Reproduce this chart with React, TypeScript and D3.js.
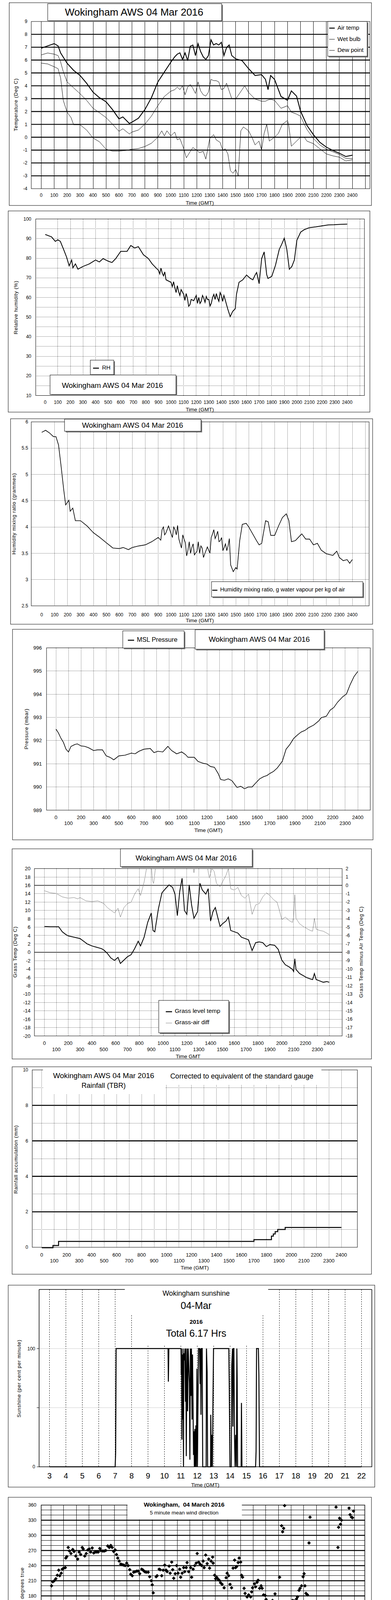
import * as d3 from 'd3'
import React from 'react'

type P = [number, number]

const FONT = "'Liberation Sans', Arial, Helvetica, sans-serif"

// ---------------- tick labels ----------------
const clockLabels = [0, 100, 200, 300, 400, 500, 600, 700, 800, 900, 1000, 1100, 1200, 1300, 1400, 1500, 1600, 1700, 1800, 1900, 2000, 2100, 2200, 2300, 2400]
const clockEven = [0, 200, 400, 600, 800, 1000, 1200, 1400, 1600, 1800, 2000, 2200, 2400]
const clockOdd = [100, 300, 500, 700, 900, 1100, 1300, 1500, 1700, 1900, 2100, 2300]
const tempTicks = [-4, -3, -2, -1, 0, 1, 2, 3, 4, 5, 6, 7, 8, 9]
const rhTicks = [10, 20, 30, 40, 50, 60, 70, 80, 90, 100]
const mixTicks = [2.5, 3, 3.5, 4, 4.5, 5, 5.5, 6]
const pressTicks = [989, 990, 991, 992, 993, 994, 995, 996]
const grassTicks = [-20, -18, -16, -14, -12, -10, -8, -6, -4, -2, 0, 2, 4, 6, 8, 10, 12, 14, 16, 18, 20]
const diffTicks = [-18, -17, -16, -15, -14, -13, -12, -11, -10, -9, -8, -7, -6, -5, -4, -3, -2, -1, 0, 1, 2]
const rainTicks = [0, 2, 4, 6, 8, 10]
const sunHours = [3, 4, 5, 6, 7, 8, 9, 10, 11, 12, 13, 14, 15, 16, 17, 18, 19, 20, 21, 22]
const dirTicks = [0, 30, 60, 90, 120, 150, 180, 210, 240, 270, 300, 330, 360]
const dirHours = [0, 1, 2, 3, 4, 5, 6, 7, 8, 9, 10, 11, 12, 13, 14, 15, 16, 17, 18, 19, 20, 21, 22, 23, 24]
const speedTicks = [0, 10, 20, 30, 40, 50]
const speedEven = ['00:00', '02:00', '04:00', '06:00', '08:00', '10:00', '12:00', '14:00', '16:00', '18:00', '20:00', '22:00']
const speedOdd = ['01:00', '03:00', '05:00', '07:00', '09:00', '11:00', '13:00', '15:00', '17:00', '19:00', '21:00', '23:00']

// ---------------- series (hour, value) ----------------
const airTemp: P[] = [[0, 6.92], [0.5, 7.1], [1, 7.28], [1.3, 7.1], [1.5, 6.55], [2, 5.75], [2.5, 5.2], [3, 4.8], [3.5, 4.2], [4, 3.5], [4.5, 3.07], [5, 2.76], [5.5, 2.15], [6, 1.43], [6.3, 1.58], [6.8, 1.07], [7, 1.17], [7.5, 1.48], [8, 2.15], [8.5, 3.07], [9, 4.3], [9.5, 5.07], [10, 5.84], [10.3, 6.25], [10.5, 6.46], [10.7, 6.56], [10.9, 6.05], [11.1, 6.56], [11.3, 5.95], [11.5, 7.07], [11.7, 7.17], [11.9, 6.35], [12.1, 7.28], [12.3, 6.66], [12.5, 6.25], [12.7, 6.05], [12.9, 6.35], [13.1, 7.58], [13.3, 7.17], [13.5, 7.28], [13.7, 7.17], [13.9, 7.38], [14.1, 6.35], [14.3, 6.97], [14.5, 7.17], [14.7, 6.35], [15, 6.1], [15.5, 5.95], [16, 5.33], [16.5, 4.8], [17, 4.87], [17.3, 4.5], [17.5, 3.7], [17.7, 4.8], [18, 4.5], [18.5, 3.17], [19, 2.87], [19.3, 3.6], [19.7, 3.2], [20, 2.05], [20.5, 0.92], [21, 0.2], [21.5, -0.4], [22, -0.77], [22.5, -1.03], [23, -1.24], [23.5, -1.5], [24, -1.4]]
const wetBulb: P[] = [[0, 6.4], [0.5, 6.55], [1, 6.46], [1.3, 6.35], [1.5, 5.84], [1.7, 5.1], [2, 4.3], [2.5, 3.84], [3, 3.38], [3.5, 2.87], [4, 2.25], [4.5, 1.9], [5, 1.53], [5.5, 1.02], [6, 0.46], [6.3, 0.66], [6.8, 0.25], [7, 0.4], [7.5, 0.56], [8, 1.02], [8.5, 1.64], [9, 2.46], [9.5, 3.17], [10, 3.58], [10.3, 3.7], [10.5, 3.9], [10.7, 3.7], [10.9, 4.0], [11.1, 3.3], [11.3, 3.9], [11.5, 4.1], [11.7, 3.8], [11.9, 3.4], [12.1, 4.3], [12.3, 3.6], [12.5, 3.3], [12.7, 3.2], [12.9, 3.5], [13.1, 4.5], [13.3, 4.4], [13.5, 4.4], [13.7, 4.3], [13.9, 3.7], [14.1, 3.8], [14.3, 4.2], [14.5, 3.6], [14.7, 3.0], [15, 2.97], [15.5, 3.7], [15.7, 4.0], [16, 3.48], [16.5, 2.97], [17, 2.8], [17.3, 2.8], [17.5, 2.9], [17.7, 2.95], [18, 2.87], [18.5, 2.25], [19, 2.45], [19.3, 1.95], [19.7, 1.8], [20, 1.64], [20.5, 0.6], [21, -0.1], [21.5, -0.6], [22, -0.93], [22.5, -1.13], [23, -1.34], [23.5, -1.65], [24, -1.65]]
const dewPoint: P[] = [[0, 5.76], [0.5, 5.7], [1, 5.48], [1.3, 5.33], [1.5, 4.6], [1.7, 2.87], [2, 1.94], [2.3, 1.53], [2.5, 0.97], [3, 0.97], [3.5, 0.56], [4, -0.06], [4.5, -0.36], [5, -0.93], [5.5, -1.08], [6, -1.08], [6.5, -1.03], [7, -0.93], [7.5, -0.88], [8, -0.72], [8.5, -0.47], [9, 0.0], [9.3, 0.5], [9.5, 0.1], [9.7, 0.5], [10, 0.1], [10.3, 0.4], [10.5, -0.2], [10.7, -0.1], [11, -0.9], [11.2, -1.6], [11.5, -1.1], [11.7, -0.8], [12, -1.0], [12.2, -1.2], [12.5, -1.1], [12.7, -1.7], [13, -0.1], [13.3, 0.2], [13.5, -0.2], [13.8, -0.4], [14, -1.0], [14.2, -0.9], [14.4, -1.3], [14.6, -2.6], [14.8, -2.8], [15, -2.5], [15.2, -3.0], [15.4, 0.5], [15.6, 0.8], [16, 0.5], [16.3, -0.1], [16.5, -0.6], [16.8, -0.3], [17, -1.0], [17.2, 0.3], [17.4, 1.0], [17.6, -0.3], [18, 0.0], [18.3, 0.3], [18.6, 1.0], [19, 1.3], [19.1, 0.9], [19.3, -0.7], [19.5, -0.5], [20, 0.0], [20.3, 0.0], [20.5, -0.3], [21, -0.5], [21.5, -0.9], [22, -1.3], [22.5, -1.45], [23, -1.55], [23.5, -1.85], [24, -1.75]]

const relHumidity: P[] = [[0, 92.1], [0.5, 90.9], [0.8, 88.6], [1, 89.4], [1.2, 88.6], [1.5, 83.8], [1.7, 80.5], [1.9, 76.1], [2.1, 79.1], [2.2, 75.1], [2.4, 77.1], [2.6, 74.4], [3, 75.8], [3.5, 77.1], [4, 79.1], [4.3, 78.1], [4.6, 79.8], [5, 78.5], [5.3, 77.8], [5.6, 79.8], [6, 83.5], [6.5, 83.5], [6.8, 86.5], [7.1, 85.2], [7.4, 85.9], [7.8, 81.8], [8.2, 79.8], [8.5, 77.1], [8.8, 75.1], [9, 73.8], [9.1, 72], [9.2, 75], [9.3, 72.4], [9.4, 71], [9.5, 73], [9.6, 69], [10, 67.7], [10.1, 65.5], [10.2, 68], [10.3, 65], [10.4, 62.5], [10.5, 66], [10.6, 63], [10.7, 61], [10.8, 64], [11, 61.6], [11.1, 58.5], [11.2, 62], [11.3, 59.6], [11.4, 55.5], [11.5, 56.3], [11.6, 59], [11.8, 58.3], [12, 61], [12.1, 57], [12.2, 60], [12.3, 56.9], [12.4, 58], [12.5, 61], [12.6, 59.6], [12.7, 57.5], [12.8, 60.5], [12.9, 58.9], [13.0, 59], [13.1, 55.6], [13.2, 57], [13.3, 60], [13.4, 61.6], [13.5, 59], [13.6, 62], [13.7, 59.6], [13.8, 58], [13.9, 62.5], [14, 61], [14.1, 58], [14.2, 61], [14.3, 58.9], [14.5, 54.2], [14.7, 50.2], [14.9, 52.9], [15.1, 54.2], [15.2, 61.6], [15.4, 67.7], [15.7, 69], [16, 71.4], [16.3, 69.7], [16.5, 69], [16.7, 71.7], [16.8, 72.7], [17, 67], [17.2, 79.8], [17.4, 83.2], [17.6, 71.7], [17.7, 69.7], [18, 70.7], [18.3, 76.4], [18.6, 84.5], [18.8, 87.2], [19, 90.2], [19.2, 84.5], [19.4, 74.4], [19.6, 75.8], [19.8, 79.1], [20, 89.2], [20.3, 93.3], [20.6, 94.6], [21, 95.6], [21.5, 96], [22, 96.5], [22.5, 97], [23, 97.1], [23.5, 97.3], [24, 97.4]]

const mixingRatio: P[] = [[0, 5.8], [0.3, 5.84], [0.6, 5.79], [0.9, 5.72], [1.1, 5.72], [1.3, 5.56], [1.5, 5.15], [1.7, 4.71], [1.85, 4.42], [2.1, 4.51], [2.2, 4.3], [2.4, 4.36], [2.6, 4.12], [3, 4.12], [3.5, 4.02], [4, 3.89], [4.5, 3.8], [5, 3.7], [5.5, 3.6], [6, 3.59], [6.3, 3.61], [6.7, 3.57], [7, 3.61], [7.5, 3.64], [8, 3.66], [8.5, 3.72], [9, 3.8], [9.2, 3.75], [9.3, 3.95], [9.4, 4.0], [9.5, 3.85], [9.6, 3.89], [9.8, 4.02], [10, 3.87], [10.1, 3.8], [10.2, 4.0], [10.3, 3.95], [10.4, 3.85], [10.5, 4.03], [10.6, 3.77], [10.8, 3.6], [10.9, 3.85], [11, 3.77], [11.1, 3.7], [11.2, 3.45], [11.3, 3.56], [11.4, 3.72], [11.5, 3.5], [11.6, 3.61], [11.7, 3.68], [11.8, 3.47], [12, 3.54], [12.1, 3.72], [12.2, 3.5], [12.3, 3.64], [12.4, 3.6], [12.5, 3.42], [12.6, 3.49], [12.8, 3.62], [12.9, 3.56], [13.0, 3.5], [13.1, 3.8], [13.2, 3.87], [13.3, 3.95], [13.4, 3.78], [13.5, 3.84], [13.6, 3.92], [13.7, 3.72], [13.8, 3.74], [13.9, 3.8], [14.0, 3.55], [14.1, 3.61], [14.2, 3.68], [14.3, 3.55], [14.4, 3.64], [14.5, 3.78], [14.6, 3.28], [14.8, 3.15], [15, 3.23], [15.1, 3.2], [15.3, 3.74], [15.5, 4.05], [15.8, 4.07], [16, 4.0], [16.3, 3.87], [16.6, 3.74], [16.8, 3.66], [17, 3.69], [17.3, 4.12], [17.5, 4.1], [17.7, 3.84], [18, 3.84], [18.3, 4.02], [18.6, 4.18], [18.9, 4.25], [19.1, 4.12], [19.3, 3.72], [19.6, 3.74], [19.9, 3.82], [20.1, 3.87], [20.4, 3.77], [20.7, 3.77], [21, 3.66], [21.3, 3.69], [21.6, 3.56], [22, 3.49], [22.5, 3.46], [22.8, 3.54], [23, 3.42], [23.3, 3.36], [23.6, 3.38], [23.8, 3.31], [24, 3.38]]

const mslPressure: P[] = [[0, 992.5], [0.2, 992.33], [0.4, 992.1], [0.6, 991.92], [0.8, 991.63], [1, 991.51], [1.2, 991.75], [1.5, 991.83], [1.7, 991.86], [2, 991.77], [2.3, 991.75], [2.6, 991.69], [3, 991.57], [3.3, 991.6], [3.7, 991.6], [4, 991.34], [4.3, 991.28], [4.6, 991.17], [5, 991.34], [5.5, 991.37], [6, 991.46], [6.3, 991.43], [6.6, 991.54], [7, 991.63], [7.5, 991.66], [7.8, 991.48], [8.1, 991.54], [8.5, 991.51], [8.9, 991.75], [9.2, 991.57], [9.6, 991.43], [10, 991.51], [10.3, 991.4], [10.5, 991.28], [11, 991.28], [11.3, 991.1], [11.7, 991.02], [12, 990.99], [12.3, 990.88], [12.6, 990.85], [12.9, 990.58], [13.1, 990.32], [13.4, 990.29], [13.7, 990.35], [14, 990.27], [14.2, 990.12], [14.4, 989.98], [14.7, 990.03], [15, 989.92], [15.3, 990.0], [15.6, 990.0], [15.9, 990.18], [16.2, 990.35], [16.5, 990.44], [16.8, 990.5], [17, 990.58], [17.3, 990.67], [17.6, 990.82], [18, 991.11], [18.3, 991.63], [18.6, 991.83], [18.9, 992.09], [19.2, 992.24], [19.5, 992.37], [19.8, 992.44], [20.1, 992.56], [20.5, 992.67], [20.9, 992.85], [21.1, 992.99], [21.5, 993.05], [21.8, 993.31], [22.1, 993.43], [22.4, 993.66], [22.8, 993.89], [23.1, 994.01], [23.4, 994.42], [23.7, 994.76], [24, 994.98]]

const grassTemp: P[] = [[0, 6.17], [0.5, 6.1], [1, 6.1], [1.2, 6.1], [1.5, 4.9], [1.8, 4.24], [2, 3.92], [2.5, 3.6], [3, 3.28], [3.3, 2.64], [3.6, 2.0], [4, 1.51], [4.4, 1.19], [4.8, 0.87], [5, 0.55], [5.3, -0.26], [5.6, -1.38], [5.9, -1.93], [6.2, -1.22], [6.4, -2.67], [6.7, -1.86], [7, -1.06], [7.3, -0.58], [7.6, 0.87], [7.9, 2.64], [8.1, 1.51], [8.4, 3.6], [8.7, 7.14], [9, 9.39], [9.15, 5.2], [9.3, 4.89], [9.6, 10.35], [9.9, 14.2], [10.2, 15.2], [10.5, 16.1], [10.8, 15.5], [11, 13.9], [11.2, 8.75], [11.4, 14.5], [11.6, 17.7], [11.8, 10], [12, 9.07], [12.2, 16.1], [12.4, 11.3], [12.6, 8.1], [12.9, 9.7], [13.1, 16.5], [13.3, 14.9], [13.6, 13.9], [13.8, 15.2], [14, 7.46], [14.2, 9.7], [14.4, 10.7], [14.6, 8.4], [14.8, 6.17], [15, 6.8], [15.3, 7.46], [15.5, 8.4], [15.7, 5.2], [16, 4.9], [16.3, 4.6], [16.6, 3.6], [16.9, 3.28], [17.2, 2.96], [17.5, 0.4], [17.8, 2.3], [18.1, 2.48], [18.4, 2.3], [18.7, 1.35], [19, 1.83], [19.4, 1.67], [19.7, 0.7], [20, -1.86], [20.3, -2.99], [20.6, -3.47], [20.9, -4.1], [21, -4.6], [21.1, -1.54], [21.2, -4.1], [21.5, -5.08], [21.8, -5.56], [22.1, -6.05], [22.4, -6.37], [22.6, -6.53], [22.75, -5.08], [22.9, -6.53], [23.2, -6.85], [23.5, -7.17], [23.8, -7.0], [24, -7.17]]
const grassAirDiff: P[] = [[0, -0.65], [0.5, -0.89], [1, -0.97], [1.5, -1.38], [2, -1.54], [2.5, -1.46], [2.8, -1.62], [3, -1.46], [3.5, -1.86], [4, -1.94], [4.5, -1.86], [5, -2.18], [5.3, -2.66], [5.6, -2.98], [5.9, -3.3], [6.2, -2.74], [6.4, -3.79], [6.7, -2.66], [7, -2.18], [7.3, -2.02], [7.6, -1.05], [7.9, -0.41], [8.1, -1.22], [8.4, 0.39], [8.6, 2.0], [8.8, 2.6], [9.0, 2.6], [9.1, 0.55], [9.2, 0.23], [9.4, 2.6], [12.5, 2.6], [12.6, 1.5], [12.7, 2.6], [13.7, 2.6], [13.8, 1.6], [13.9, 0.87], [14.1, 2.0], [14.3, 1.68], [14.5, 0.23], [14.8, -0.17], [15, 0.39], [15.3, 1.2], [15.5, 2.0], [15.7, -0.41], [16, -0.57], [16.3, -0.25], [16.6, -1.22], [16.9, -1.54], [17.2, -1.05], [17.5, -3.47], [17.8, -2.34], [18.1, -2.18], [18.4, -1.38], [18.7, -0.89], [19, -1.22], [19.3, -1.7], [19.6, -2.02], [19.8, -2.98], [20, -4.1], [20.3, -3.79], [20.6, -4.19], [20.9, -4.43], [21, -3.79], [21.1, -1.13], [21.2, -3.95], [21.5, -4.59], [21.8, -4.91], [22.1, -5.15], [22.4, -5.4], [22.6, -5.48], [22.75, -3.95], [22.9, -5.23], [23.2, -5.4], [23.5, -5.48], [23.8, -5.72], [24, -5.88]]

const rainAccum: P[] = [[0, -0.03], [0.9, 0.1], [1.35, 0.33], [17.0, 0.43], [18.4, 0.63], [18.55, 0.75], [18.7, 0.88], [18.9, 1.0], [19.5, 1.12], [24, 1.12]]

const sunshine: P[] = [[3, 0], [7.0, 0], [7.03, 12], [7.06, 100], [10.22, 100], [10.24, 72], [10.27, 100], [11.0, 100], [11.008, 100], [11.024, 78], [11.04, 100], [11.064, 23], [11.088, 95], [11.11, 40], [11.135, 100], [11.16, 0], [11.18, 96], [11.215, 90], [11.247, 100], [11.28, 55], [11.30, 100], [11.33, 9], [11.36, 76], [11.38, 100], [11.41, 47], [11.45, 100], [11.49, 83], [11.52, 71], [11.55, 6], [11.58, 100], [11.61, 60], [11.645, 100], [11.68, 40], [11.71, 95], [11.74, 55], [11.77, 10], [11.80, 30], [11.82, 0], [11.85, 32], [11.875, 0], [11.915, 35], [11.94, 0], [11.98, 83], [12.01, 0], [12.04, 50], [12.075, 100], [12.14, 100], [12.17, 70], [12.2, 100], [12.225, 44], [12.25, 100], [12.3, 100], [12.33, 0], [12.54, 0], [12.56, 100], [12.6, 80], [12.63, 0], [12.81, 0], [12.82, 44], [12.855, 0], [12.89, 27], [12.92, 0], [12.95, 50], [12.99, 100], [13.92, 100], [13.95, 65], [13.99, 0], [14.07, 0], [14.1, 86], [14.145, 100], [14.17, 34], [14.2, 100], [14.23, 100], [14.265, 27], [14.30, 0], [14.34, 27], [14.38, 0], [14.41, 100], [14.43, 75], [14.455, 0], [14.67, 0], [14.69, 54], [14.72, 0], [15.55, 0], [15.58, 13], [15.61, 100], [15.72, 100], [15.75, 78], [15.79, 0], [22, 0]]

const windDir: P[] = [[0.04, 200], [0.14, 208], [0.26, 210], [0.38, 214], [0.5, 221], [0.61, 231], [0.69, 220], [0.81, 225], [0.89, 233], [1.0, 235], [1.13, 236], [1.17, 255], [1.25, 258], [1.36, 276], [1.46, 269], [1.58, 264], [1.72, 272], [1.82, 268], [1.96, 259], [2.11, 253], [2.23, 267], [2.35, 262], [2.47, 276], [2.55, 273], [2.67, 259], [2.79, 264], [2.91, 271], [3.02, 273], [3.14, 267], [3.26, 275], [3.38, 265], [3.5, 267], [3.62, 267], [3.74, 267], [3.86, 274], [3.93, 270], [4.09, 269], [4.21, 269], [4.33, 270], [4.49, 279], [4.61, 276], [4.73, 280], [4.84, 276], [4.96, 268], [5.08, 271], [5.18, 262], [5.28, 255], [5.4, 249], [5.52, 243], [5.63, 242], [5.75, 241], [5.87, 240], [5.99, 245], [6.11, 240], [6.23, 232], [6.31, 223], [6.43, 220], [6.54, 227], [6.66, 228], [6.78, 229], [6.9, 229], [7.02, 224], [7.18, 233], [7.29, 231], [7.41, 228], [7.53, 227], [7.69, 227], [7.81, 218], [7.93, 210], [8.01, 202], [8.09, 186], [8.32, 218], [8.4, 220], [8.56, 233], [8.64, 232], [8.76, 220], [8.88, 231], [9.0, 241], [9.11, 231], [9.19, 228], [9.35, 239], [9.43, 225], [9.55, 247], [9.63, 232], [9.71, 215], [9.83, 224], [9.94, 240], [10.06, 225], [10.18, 233], [10.26, 217], [10.38, 225], [10.5, 236], [10.58, 228], [10.7, 236], [10.77, 246], [10.89, 228], [11.05, 236], [11.13, 217], [11.25, 233], [11.37, 240], [11.49, 245], [11.57, 264], [11.68, 247], [11.8, 243], [11.92, 240], [12.04, 249], [12.12, 236], [12.24, 261], [12.36, 244], [12.48, 253], [12.55, 235], [12.67, 249], [12.79, 257], [12.83, 245], [12.95, 221], [13.03, 214], [13.11, 217], [13.19, 214], [13.31, 211], [13.42, 206], [13.54, 203], [13.7, 196], [13.86, 216], [13.94, 225], [14.06, 220], [14.17, 203], [14.29, 196], [14.41, 235], [14.53, 251], [14.61, 236], [14.69, 238], [14.81, 246], [14.89, 255], [15.01, 247], [15.08, 221], [15.16, 217], [15.28, 195], [15.36, 185], [15.52, 178], [15.64, 182], [15.8, 178], [15.88, 188], [15.95, 196], [16.11, 204], [16.19, 198], [16.31, 207], [16.39, 211], [16.51, 195], [16.63, 200], [16.71, 195], [16.82, 182], [16.94, 181], [17.02, 173], [17.14, 166], [17.22, 146], [17.34, 151], [17.42, 166], [17.53, 171], [17.61, 166], [17.73, 184], [17.81, 159], [17.93, 143], [18.01, 135], [18.09, 217], [18.25, 319], [18.33, 307], [18.41, 314], [18.49, 359], [18.6, 0], [18.68, 5], [18.8, 37], [18.84, 134], [18.92, 106], [19.0, 145], [19.12, 171], [19.24, 170], [19.32, 169], [19.43, 174], [19.51, 178], [19.63, 191], [19.71, 195], [19.83, 200], [19.95, 218], [20.03, 224], [20.1, 200], [20.18, 185], [20.3, 182], [20.42, 285], [20.5, 336], [20.58, 36], [20.66, 26], [20.78, 44], [20.86, 76], [20.9, 82], [20.98, 28], [21.1, 32], [21.17, 19], [21.25, 3], [21.33, 50], [21.41, 77], [21.53, 58], [21.6, 66], [21.68, 77], [21.77, 84], [21.85, 87], [21.93, 69], [22.0, 58], [22.08, 51], [22.2, 83], [22.24, 66], [22.32, 39], [22.44, 22], [22.56, 356], [22.71, 276], [22.76, 316], [22.84, 334], [22.91, 322], [22.99, 330], [23.07, 54], [23.19, 0], [23.27, 97], [23.35, 112], [23.43, 82], [23.5, 79], [23.59, 354], [23.67, 341], [23.78, 336], [23.86, 335], [23.94, 348]]

const meanSpeed: P[] = [[0, 9.9], [0.1, 8.9], [0.3, 9.75], [0.4, 6.8], [0.6, 7.2], [0.9, 7.6], [1.1, 8.7], [1.3, 10.8], [1.5, 10.8], [1.7, 10.1], [1.9, 9.5], [2.1, 9.3], [2.3, 10.4], [2.5, 8.9], [2.7, 6.1], [2.9, 8.0], [3.2, 7.2], [3.5, 8.5], [3.8, 10.1], [4.0, 7.2], [4.3, 7.2], [4.6, 7.8], [4.9, 6.4], [5.2, 5.7], [5.5, 5.5], [5.8, 5.1], [6.1, 5.1], [6.4, 4.9], [6.7, 5.3], [7.0, 6.4], [7.3, 5.5], [7.6, 5.5], [7.9, 5.1], [8.1, 5.1], [8.3, 4.0], [8.5, 5.5], [8.8, 6.1], [9.1, 7.2], [9.4, 8.3], [9.7, 7.0], [10.0, 7.8], [10.2, 8.9], [10.5, 7.8], [10.8, 8.7], [11.1, 7.6], [11.4, 8.5], [11.7, 7.6], [12.0, 8.0], [12.3, 9.1], [12.6, 8.9], [12.9, 9.5], [13.2, 10.1], [13.4, 8.9], [13.7, 8.5], [14.0, 8.7], [14.2, 6.5], [14.5, 8.3], [14.8, 5.3], [15.1, 7.6], [15.4, 10.1], [15.7, 9.3], [16.0, 8.3], [16.3, 5.1], [16.6, 6.8], [16.9, 5.7], [17.0, 5.9], [17.12, 3.4], [17.27, 1.9], [17.47, 4.2], [17.68, 5.3], [17.83, 3.8], [17.98, 2.5], [18.21, 0.4], [18.33, 3.4], [18.48, 5.3], [18.69, 3.6], [18.84, 1.9], [18.99, 2.5], [19.19, 3.8], [19.44, 5.1], [19.7, 5.3], [19.9, 4.0], [20.05, 2.1], [20.25, 2.5], [20.45, 1.5], [20.71, 1.7], [20.86, 0.6], [21.06, 1.9], [21.26, 2.5], [21.46, 1.9], [21.67, 2.1], [21.87, 2.5], [22.07, 1.9], [22.22, 1.9], [22.42, 1.5], [22.68, 0.4], [22.78, 1.9], [22.98, 2.5], [23.18, 1.1], [23.38, 1.1], [23.58, 1.3], [23.74, 1.9], [23.84, 2.7], [23.94, 3.0]]
// max gust, 10 minute steps from 00:00 to 16:50
const gustEarly = [15, 9, 13, 8, 12, 10, 14, 9, 21, 11, 18, 12, 19, 10, 16, 9, 20, 11, 14, 9, 17, 10, 18, 11, 16, 9, 17, 8, 13, 9, 11, 7, 10, 6, 9, 7, 8, 6, 9, 5, 9, 6, 9, 6, 8, 6, 7, 5, 7, 5, 9, 6, 11, 7, 13, 8, 12, 9, 13, 8, 14, 9, 12, 10, 15, 9, 17, 10, 15, 9, 16, 10, 15, 11, 16, 10, 17, 12, 14, 10, 21, 12, 16, 11, 14, 9, 13, 8, 11, 7, 12, 8, 16, 10, 14, 9, 13, 8, 11, 7, 13, 8]
// max gust, 12 minute steps from 17:00 to 24:00
const gustLate = [8, 9.3, 5.5, 8, 5.9, 4.9, 1.5, 7.6, 6.3, 3.6, 4.2, 6.3, 7.8, 6.3, 4.6, 3.0, 3.4, 2.5, 3.0, 1.5, 2.7, 3.6, 2.7, 3.0, 3.6, 3.2, 2.5, 2.3, 1.3, 3.0, 3.4, 1.5, 1.7, 1.9, 3.4, 3.0]
const speedTenth: P[] = [[8.42, 39.7], [17.14, 35.5], [17.45, 37.0], [17.42, 34.3], [17.15, 30.3], [17.42, 31.4], [17.17, 26.8], [17.42, 27.3], [17.2, 24.6], [17.19, 23.3], [17.39, 23.4], [17.34, 22.8], [17.37, 21.5], [17.22, 20.5], [17.32, 20.4], [17.34, 19.0], [17.29, 18.1], [17.28, 17.6], [17.29, 16.9], [17.29, 16.2], [17.93, 39.6], [17.93, 36.4], [17.98, 35.8], [17.96, 34.8], [18.0, 33.8], [18.31, 34.4], [18.35, 36.6], [18.04, 31.2], [18.3, 31.6], [18.08, 30.9], [18.07, 29.6], [18.31, 28.8], [18.13, 26.4], [18.26, 25.7], [18.13, 23.4], [18.28, 21.5], [18.23, 17.9], [18.18, 16.6], [18.23, 12.7], [18.18, 11.4], [18.2, 6.7], [18.21, 2.1], [18.64, 39.7], [18.69, 36.7], [18.72, 32.6], [18.73, 30.0], [18.77, 28.0], [18.74, 26.6], [18.79, 26.2], [18.81, 25.7], [18.82, 24.7], [18.84, 22.4], [18.87, 20.9], [18.89, 20.0], [18.91, 19.6], [18.94, 18.8], [18.96, 17.7], [18.92, 16.5], [19.14, 24.7], [19.12, 22.4], [19.06, 21.7], [19.39, 39.5], [19.34, 37.5], [19.36, 36.4], [19.34, 35.4], [19.31, 34.6], [19.31, 33.8], [19.24, 31.9], [19.19, 31.2], [19.16, 28.1], [19.15, 25.7], [19.12, 23.6], [19.85, 38.6], [19.87, 36.2], [19.87, 34.6], [19.88, 32.8], [19.9, 30.0], [19.9, 28.1], [19.93, 26.2], [19.95, 25.4], [19.95, 23.5], [19.97, 21.9], [20.0, 20.7], [20.0, 20.0], [20.03, 19.0], [20.05, 18.1], [20.08, 17.4], [20.1, 16.5], [20.12, 15.6], [20.25, 23.4], [20.27, 24.7], [20.33, 27.0], [20.37, 26.6], [20.3, 26.2], [20.2, 20.0], [20.25, 21.9], [20.14, 17.5], [20.53, 22.0], [20.58, 21.6], [20.6, 20.9], [20.48, 19.0], [20.62, 19.4], [20.66, 18.1], [20.71, 17.0], [20.62, 17.7], [20.73, 15.6], [20.75, 13.1], [20.93, 13.1], [20.5, 11.6], [20.78, 10.8], [20.96, 10.3], [20.5, 8.9], [20.81, 8.1], [20.96, 8.1], [20.86, 6.0], [20.86, 5.3], [20.88, 4.2], [20.86, 3.4], [20.84, 2.5], [21.26, 27.6], [21.28, 27.1], [21.31, 25.9], [21.21, 25.3], [21.26, 24.5], [21.16, 23.8], [21.11, 23.2], [21.21, 22.8], [21.31, 22.4], [21.04, 20.5], [21.33, 20.5], [21.16, 20.5], [21.36, 18.6], [21.64, 18.6], [21.36, 16.5], [21.64, 16.5], [21.39, 14.9], [21.64, 15.2], [21.42, 13.5], [21.64, 13.6], [21.44, 12.7], [21.49, 11.8], [21.44, 11.6], [21.7, 21.1], [21.75, 21.9], [21.8, 23.0], [21.83, 23.8], [21.87, 24.5], [21.93, 25.3], [21.97, 26.2], [22.0, 26.8], [22.05, 24.9], [22.1, 23.4], [22.12, 21.7], [22.15, 19.8], [22.2, 18.1], [22.25, 16.9], [22.29, 15.0], [22.32, 13.9], [22.37, 14.8], [22.42, 16.0], [22.47, 17.3], [22.52, 18.6], [22.57, 17.7], [22.2, 15.6], [22.25, 14.3], [22.63, 13.5], [22.63, 11.8], [22.68, 10.3], [22.68, 8.4], [22.68, 5.9], [22.68, 3.4], [22.73, 2.3], [22.81, 20.7], [22.83, 22.8], [22.84, 24.5], [22.88, 25.3], [22.9, 26.4], [22.96, 27.0], [22.93, 28.1], [22.88, 28.5], [23.03, 27.6], [23.06, 26.8], [23.08, 25.9], [23.1, 22.8], [23.1, 18.6], [23.1, 15.8], [23.13, 13.5], [23.13, 11.2], [23.18, 9.7], [23.23, 9.3], [23.28, 8.6], [23.33, 8.0], [23.38, 7.6], [23.43, 9.3], [23.48, 9.7], [23.53, 8.9], [23.58, 8.4], [23.63, 7.6], [23.68, 6.8], [23.23, 6.8], [23.28, 5.9], [23.33, 4.9], [23.18, 8.0], [23.48, 7.2], [23.58, 6.5], [23.9, 31.6], [23.9, 30.5], [23.91, 29.1], [23.93, 28.1], [23.88, 27.3], [23.85, 25.9], [23.81, 24.9], [23.81, 24.1], [23.8, 22.8], [23.78, 20.7], [23.75, 18.4], [23.71, 16.0], [23.68, 13.7], [23.68, 11.4]]

// ---------------- helpers ----------------
const Txt = ({ x, y, s = 12, a = 'middle', w = 'normal', ls, fill = '#000', children }: any) => (
  <text x={x} y={y} dy="0.35em" fontSize={s} fontFamily={FONT} textAnchor={a} fontWeight={w}
    letterSpacing={ls} fill={fill} style={{ whiteSpace: 'pre' }}>{children}</text>
)
const VTxt = ({ x, y, s = 13, children }: any) => (
  <text transform={`translate(${x},${y}) rotate(-90)`} dy="0.35em" fontSize={s} fontFamily={FONT}
    textAnchor="middle" letterSpacing={0.7}>{children}</text>
)
const Box = ({ x, y, w, h, shadow = true }: any) => (
  <g>
    {shadow && <rect x={x + 3} y={y + 3} width={w} height={h} fill="#7a7a7a" />}
    <rect x={x} y={y} width={w} height={h} fill="#fff" stroke="#000" />
  </g>
)
const dots = { stroke: '#000', strokeWidth: 1, strokeDasharray: '1 2', shapeRendering: 'crispEdges' } as any
const solid = { stroke: '#000', strokeWidth: 1, shapeRendering: 'crispEdges' } as any
const diamond = (w: number, h: number) => `M0,${-h}L${w},0L0,${h}L${-w},0Z`
const pathOf = (x: any, y: any, data: P[], curve: any = d3.curveLinear) =>
  d3.line<P>().x(d => x(d[0])).y(d => y(d[1])).curve(curve)(data) || ''

// ---------------- panels ----------------
function TempPanel() {
  const L = 80, R = 946, T = 55, B = 483
  const x = d3.scaleLinear().domain([0, 24]).range([105.4, 901])
  const y = d3.scaleLinear().domain([-4, 9]).range([B, T])
  return (
    <g>
      <rect x={23.6} y={7} width={926.4} height={519} fill="#fff" stroke="#000" />
      {dirHours.concat([25]).map(h => <line key={h} x1={x(h)} x2={x(h)} y1={T} y2={B} {...solid} />)}
      {tempTicks.slice(1, -1).map(v => <line key={v} x1={L} x2={R} y1={y(v)} y2={y(v)} stroke="#000" strokeWidth={2.4} />)}
      <rect x={L} y={T} width={R - L} height={B - T} fill="none" stroke="#000" />
      <path d={pathOf(x, y, dewPoint)} fill="none" stroke="#000" strokeWidth={1} />
      <path d={pathOf(x, y, wetBulb)} fill="none" stroke="#000" strokeWidth={1} />
      <path d={pathOf(x, y, airTemp)} fill="none" stroke="#000" strokeWidth={2.2} />
      <Box x={122} y={9.5} w={445} h={43.5} />
      <Txt x={343} y={31} s={26}>Wokingham AWS 04 Mar 2016</Txt>
      <Box x={838} y={55} w={101} h={89} />
      {['Air temp', 'Wet bulb', 'Dew point'].map((t, i) => (
        <g key={t}>
          <line x1={842} x2={856} y1={72 + i * 28.5} y2={72 + i * 28.5} stroke="#000" strokeWidth={i === 0 ? 2.5 : 1} />
          <Txt x={863} y={71 + i * 28.5} s={15} a="start">{t}</Txt>
        </g>
      ))}
      {tempTicks.map(v => <Txt key={v} x={70} y={y(v)} a="end">{v}</Txt>)}
      {clockLabels.map(t => <Txt key={t} x={x(t / 100)} y={500}>{t}</Txt>)}
      <Txt x={511} y={519} s={13.5}>Time (GMT)</Txt>
      <VTxt x={40} y={268}>Temperature (Deg C)</VTxt>
    </g>
  )
}

function RhPanel() {
  const L = 91.4, R = 932, T = 560.6, B = 1012.5
  const x = d3.scaleLinear().domain([0, 24]).range([115.7, 888])
  const y = d3.scaleLinear().domain([10, 100]).range([B, T])
  const data = d3.sort(relHumidity, d => d[0])
  return (
    <g>
      <rect x={21} y={540} width={925} height={515} fill="#fff" stroke="#000" />
      {dirHours.slice(1).concat([25]).map(h => <line key={h} x1={x(h)} x2={x(h)} y1={T} y2={B} {...dots} />)}
      {d3.range(15, 100, 5).map(v => <line key={v} x1={L} x2={R} y1={y(v)} y2={y(v)} {...dots} />)}
      <rect x={L} y={T} width={R - L} height={B - T} fill="none" stroke="#000" />
      <path d={pathOf(x, y, data)} fill="none" stroke="#000" strokeWidth={2} />
      <Box x={231} y={922} w={60} h={37} />
      <line x1={238} x2={253} y1={942.5} y2={942.5} stroke="#000" strokeWidth={2.5} />
      <Txt x={261} y={941} s={15} a="start">RH</Txt>
      <Box x={128} y={960} w={322} h={50} />
      <Txt x={287.5} y={986} s={19}>Wokingham AWS 04 Mar 2016</Txt>
      {rhTicks.map(v => <Txt key={v} x={80} y={y(v)} a="end">{v}</Txt>)}
      {clockLabels.map(t => <Txt key={t} x={x(t / 100)} y={1030}>{t}</Txt>)}
      <Txt x={511} y={1048} s={13.5}>Time (GMT)</Txt>
      <VTxt x={40} y={787}>Relative humidity (%)</VTxt>
    </g>
  )
}

function MixPanel() {
  const L = 80, R = 944, T = 1080, B = 1551
  const x = d3.scaleLinear().domain([0, 24]).range([106.7, 901])
  const y = d3.scaleLinear().domain([2.5, 6]).range([B, T])
  const data = d3.sort(mixingRatio, d => d[0])
  return (
    <g>
      <rect x={27} y={1072} width={926} height={526} fill="#fff" stroke="#000" />
      {dirHours.slice(1).concat([25]).map(h => <line key={h} x1={x(h)} x2={x(h)} y1={T} y2={B} {...dots} />)}
      {mixTicks.slice(1, -1).map(v => <line key={v} x1={L} x2={R} y1={y(v)} y2={y(v)} {...dots} />)}
      <rect x={L} y={T} width={R - L} height={B - T} fill="none" stroke="#000" />
      <path d={pathOf(x, y, data)} fill="none" stroke="#000" strokeWidth={1.6} />
      <Box x={165} y={1073} w={349} h={31} />
      <Txt x={339} y={1088} s={19}>Wokingham AWS 04 Mar 2016</Txt>
      <clipPath id="mixLegend"><rect x={541} y={1489} width={387} height={39} /></clipPath>
      <Box x={541} y={1489} w={387} h={39} />
      <line x1={543} x2={556} y1={1511} y2={1511} stroke="#000" strokeWidth={2.5} />
      <g clipPath="url(#mixLegend)">
        <Txt x={563} y={1509} s={14.5} a="start">Humidity mixing ratio, g water vapour per kg of air</Txt>
      </g>
      {mixTicks.map(v => <Txt key={v} x={72} y={y(v)} a="end">{v}</Txt>)}
      {clockLabels.map(t => <Txt key={t} x={x(t / 100)} y={1574}>{t}</Txt>)}
      <Txt x={511} y={1588} s={13.5}>Time (GMT)</Txt>
      <VTxt x={35} y={1315}>Humidity mixing ratio (grammes)</VTxt>
    </g>
  )
}

function PressPanel() {
  const L = 119, R = 947, T = 1658.5, B = 2074
  const x = d3.scaleLinear().domain([0, 24]).range([143, 915])
  const y = d3.scaleLinear().domain([989, 996]).range([B, T])
  return (
    <g>
      <rect x={32} y={1611} width={922} height={539} fill="#fff" stroke="#000" />
      {dirHours.map(h => <line key={h} x1={x(h)} x2={x(h)} y1={T} y2={B} {...dots} />)}
      {pressTicks.slice(1, -1).map(v => <line key={v} x1={L} x2={R} y1={y(v)} y2={y(v)} {...dots} />)}
      <rect x={L} y={T} width={R - L} height={B - T} fill="none" stroke="#000" />
      <path d={pathOf(x, y, mslPressure)} fill="none" stroke="#000" strokeWidth={1.6} />
      <Box x={314} y={1615} w={157} h={44} />
      <line x1={327} x2={343} y1={1639} y2={1639} stroke="#000" strokeWidth={2.5} />
      <Txt x={350} y={1637} s={16.5} a="start">MSL Pressure</Txt>
      <Box x={499} y={1612} w={330} h={50} />
      <Txt x={663} y={1636} s={19}>Wokingham AWS 04 Mar 2016</Txt>
      {pressTicks.map(v => <Txt key={v} x={107} y={y(v)} a="end" s={13}>{v}</Txt>)}
      {clockEven.map(t => <Txt key={t} x={x(t / 100)} y={2092} s={13}>{t}</Txt>)}
      {clockOdd.map(t => <Txt key={t} x={x(t / 100)} y={2107} s={13}>{t}</Txt>)}
      <Txt x={533} y={2125} s={13.5}>Time (GMT)</Txt>
      <VTxt x={67} y={1866}>Pressure (mbar)</VTxt>
    </g>
  )
}

function GrassPanel() {
  const L = 88, R = 875, T = 2223.6, B = 2652
  const x = d3.scaleLinear().domain([0, 24]).range([113.7, 842])
  const y = d3.scaleLinear().domain([-20, 20]).range([B, T])
  const yR = d3.scaleLinear().domain([-18, 2]).range([B, T])
  return (
    <g>
      <rect x={31} y={2173} width={919} height={538} fill="#fff" stroke="#000" />
      <clipPath id="grassClip"><rect x={L} y={T} width={R - L} height={B - T} /></clipPath>
      {dirHours.map(h => <line key={h} x1={x(h)} x2={x(h)} y1={T} y2={B} {...dots} />)}
      {grassTicks.slice(1, -1).map(v => (v === 0 || v === 16
        ? <line key={v} x1={L} x2={R} y1={y(v)} y2={y(v)} stroke="#000" strokeWidth={1.4} />
        : <line key={v} x1={L} x2={R} y1={y(v)} y2={y(v)} {...dots} />))}
      <rect x={L} y={T} width={R - L} height={B - T} fill="none" stroke="#000" />
      <g clipPath="url(#grassClip)">
        <path d={pathOf(x, yR, grassAirDiff)} fill="none" stroke="#808080" strokeWidth={1} />
        <path d={pathOf(x, y, grassTemp)} fill="none" stroke="#000" strokeWidth={2} />
      </g>
      <Box x={308} y={2173} w={337} h={45.5} />
      <Txt x={476} y={2196} s={19}>Wokingham AWS 04 Mar 2016</Txt>
      <Box x={406} y={2561} w={179} h={83} />
      <line x1={424} x2={440} y1={2590} y2={2590} stroke="#000" strokeWidth={2.5} />
      <Txt x={447} y={2588} s={15.5} a="start">Grass level temp</Txt>
      <line x1={424} x2={440} y1={2619} y2={2619} stroke="#808080" strokeWidth={1} />
      <Txt x={447} y={2617} s={15.5} a="start">Grass-air diff</Txt>
      {grassTicks.map(v => <Txt key={v} x={78} y={y(v)} a="end" s={13}>{v}</Txt>)}
      {diffTicks.map(v => <Txt key={v} x={884} y={yR(v)} a="start" s={12}>{v}</Txt>)}
      {clockEven.map(t => <Txt key={t} x={x(t / 100)} y={2670} s={13}>{t}</Txt>)}
      {clockOdd.map(t => <Txt key={t} x={x(t / 100)} y={2686} s={13}>{t}</Txt>)}
      <Txt x={481} y={2704} s={13.5}>Time GMT</Txt>
      <VTxt x={38} y={2437}>Grass Temp (Deg C)</VTxt>
      <VTxt x={923} y={2437}>Grass Temp minus Air Temp (Deg C)</VTxt>
    </g>
  )
}

function RainPanel() {
  const L = 82.4, R = 914, T = 2739, B = 3193
  const x = d3.scaleLinear().domain([0, 24]).range([106.7, 873])
  const y = d3.scaleLinear().domain([0, 10]).range([B, T])
  return (
    <g>
      <rect x={31} y={2731} width={919} height={531} fill="#fff" stroke="#000" />
      {dirHours.map(h => <line key={h} x1={x(h)} x2={x(h)} y1={T} y2={B} {...dots} />)}
      {[1, 3, 5, 7, 9].map(v => <line key={v} x1={L} x2={R} y1={y(v)} y2={y(v)} {...dots} />)}
      {[2, 4, 6, 8].map(v => <line key={v} x1={L} x2={R} y1={y(v)} y2={y(v)} stroke="#000" strokeWidth={2.6} />)}
      <rect x={L} y={T} width={R - L} height={B - T} fill="none" stroke="#000" />
      <rect x={110} y={2736} width={313} height={64} fill="#fff" />
      <rect x={423} y={2736} width={399} height={41} fill="#fff" />
      <Txt x={265} y={2753.5} s={19}>Wokingham AWS 04 Mar 2016</Txt>
      <Txt x={265} y={2779} s={18}>Rainfall (TBR)</Txt>
      <Txt x={618.5} y={2755} s={18}>Corrected to equivalent of the standard gauge</Txt>
      <path d={pathOf(x, y, rainAccum, d3.curveStepAfter)} fill="none" stroke="#000" strokeWidth={2.5} />
      {rainTicks.map(v => <Txt key={v} x={72} y={y(v)} a="end">{v}</Txt>)}
      {clockEven.map(t => <Txt key={t} x={x(t / 100)} y={3212} s={13}>{t}</Txt>)}
      {clockOdd.map(t => <Txt key={t} x={x(t / 100)} y={3227} s={13}>{t}</Txt>)}
      <Txt x={498} y={3245.5} s={13.5}>Time (GMT)</Txt>
      <VTxt x={40} y={2968}>Rainfall accumulation (mm)</VTxt>
    </g>
  )
}

function SunPanel() {
  const L = 100, R = 951, T = 3301, B = 3755
  const x = d3.scaleLinear().domain([3, 22]).range([126.5, 924.6])
  const y = d3.scaleLinear().domain([0, 150]).range([B, T])
  return (
    <g>
      <rect x={21} y={3290} width={937.5} height={517} fill="#fff" stroke="#000" />
      {sunHours.map(h => <line key={h} x1={x(h)} x2={x(h)} y1={T} y2={B} stroke="#000" strokeDasharray="3 3" />)}
      {[50, 100].map(v => <line key={v} x1={L} x2={R} y1={y(v)} y2={y(v)} stroke="#999" strokeDasharray="1 1" />)}
      {[0, 50, 100].map(v => <line key={v} x1={L - 6} x2={L} y1={y(v)} y2={y(v)} stroke="#000" />)}
      <path d={`M${L},${T}V${B}H${R}V${T}`} fill="none" stroke="#000" strokeWidth={1.5} />
      <line x1={L} x2={319.5} y1={T} y2={T} stroke="#000" strokeWidth={1.5} />
      <line x1={685.6} x2={R} y1={T} y2={T} stroke="#000" strokeWidth={1.5} />
      <rect x={319.5} y={T - 1} width={366} height={66} fill="#fff" />
      <rect x={345} y={3366} width={319.5} height={76} fill="#fff" />
      <Txt x={501.6} y={3311} s={18}>Wokingham sunshine</Txt>
      <Txt x={501.6} y={3342} s={25}>04-Mar</Txt>
      <Txt x={501.6} y={3384} s={15} w="bold">2016</Txt>
      <Txt x={501.6} y={3413} s={25}>Total 6.17 Hrs</Txt>
      <path d={pathOf(x, y, sunshine)} fill="none" stroke="#000" strokeWidth={2.5} />
      <Txt x={90} y={y(100)} a="end">100</Txt>
      <Txt x={90} y={y(0)} a="end">0</Txt>
      {sunHours.map(h => <Txt key={h} x={x(h)} y={3778} s={20}>{h}</Txt>)}
      <Txt x={525} y={3801} s={13.5}>Time (GMT)</Txt>
      <VTxt x={48} y={3529}>Sunshine (per cent per minute)</VTxt>
    </g>
  )
}

function DirPanel() {
  const L = 105.4, R = 933, T = 3853, B = 4318
  const x = d3.scaleLinear().domain([0, 24]).range([130.5, 906])
  const y = d3.scaleLinear().domain([0, 360]).range([B, T])
  return (
    <g>
      <rect x={21} y={3833} width={929} height={534} fill="#fff" stroke="#000" />
      {dirHours.map(h => <line key={h} x1={x(h)} x2={x(h)} y1={T} y2={B} {...solid} />)}
      {d3.range(10, 360, 10).map(v => (v % 30 === 0
        ? <line key={v} x1={L} x2={R} y1={y(v)} y2={y(v)} stroke="#000" strokeWidth={2.4} />
        : <line key={v} x1={L} x2={R} y1={y(v)} y2={y(v)} {...solid} />))}
      <rect x={L} y={T} width={R - L} height={B - T} fill="none" stroke="#000" strokeWidth={1.5} />
      <rect x={326} y={3838} width={292.6} height={52} fill="#fff" />
      <Txt x={471} y={3852} s={15.5} w="bold">{'Wokingham,  04 March 2016'}</Txt>
      <Txt x={471} y={3872} s={13.5}>5 minute mean wind direction</Txt>
      {windDir.map((d, i) => <path key={i} d={diamond(4.6, 4.6)} transform={`translate(${x(d[0])},${y(d[1])})`} fill="#000" />)}
      {dirTicks.map(v => <Txt key={v} x={93} y={y(v)} a="end" s={12.5}>{v}</Txt>)}
      {dirHours.map(h => <Txt key={h} x={x(h)} y={4338} s={13}>{h}</Txt>)}
      <Txt x={517.6} y={4355} s={13.5}>Time (GMT)</Txt>
      <VTxt x={56} y={4086}>Direction, degrees true</VTxt>
    </g>
  )
}

function SpeedPanel() {
  const L = 81.8, R = 946, T = 4425, B = 4820
  const x = d3.scaleLinear().domain([0, 24]).range([106, 900.9])
  const y = d3.scaleLinear().domain([0, 50]).range([B, T])
  const gust: P[] = gustEarly.map((v, i) => [i / 6, v] as P).concat(gustLate.map((v, i) => [17 + i * 0.2, v] as P))
  return (
    <g>
      <rect x={23.6} y={4380} width={928.4} height={515} fill="#fff" stroke="#000" />
      <clipPath id="speedClip"><rect x={L} y={T} width={R - L} height={B - T} /></clipPath>
      {dirHours.concat([25]).map(h => <line key={h} x1={x(h)} x2={x(h)} y1={T} y2={B} {...dots} />)}
      {d3.range(5, 50, 5).map(v => <line key={v} x1={L} x2={R} y1={y(v)} y2={y(v)} {...dots} />)}
      {speedTicks.map(v => <line key={v} x1={L - 4} x2={L} y1={y(v)} y2={y(v)} stroke="#000" />)}
      <path d={`M${L},${T}V${B}H${R}V${T}H428`} fill="none" stroke="#000" strokeWidth={1.3} />
      <g clipPath="url(#speedClip)">
        <path d={pathOf(x, y, gust)} fill="none" stroke="#444" strokeWidth={1} />
        <path d={pathOf(x, y, meanSpeed)} fill="none" stroke="#000" strokeWidth={2.2} />
      </g>
      {speedTenth.map((d, i) => <path key={i} d={diamond(4.6, 4.6)} transform={`translate(${x(d[0])},${y(d[1])})`} fill="#c8c8c8" stroke="#000" strokeWidth={0.7} />)}
      <Txt x={255.6} y={4403.6} s={18}>{'Wokingham,  04 March 2016'}</Txt>
      <Txt x={567} y={4392} s={13.5}>Wind speed, 10 min mean / max gust</Txt>
      <Txt x={567} y={4410} s={13.5}>Speeds below 4 kt shown at x10 scale</Txt>
      <Box x={722.7} y={4387} w={224.3} h={25.5} />
      <line x1={756} x2={767} y1={4401} y2={4401} stroke="#000" strokeWidth={2.5} />
      <Txt x={774.4} y={4400} s={11} a="start">Speed x 1</Txt>
      <path d={diamond(4, 4)} transform="translate(848,4400)" fill="#c8c8c8" stroke="#000" strokeWidth={0.7} />
      <Txt x={860.7} y={4400} s={11} a="start">Speed / 10</Txt>
      {speedTicks.map(v => <Txt key={v} x={72} y={y(v)} a="end" s={13}>{v}</Txt>)}
      {speedEven.map((t, i) => <Txt key={t} x={x(i * 2)} y={4840} s={12.5}>{t}</Txt>)}
      {speedOdd.map((t, i) => <Txt key={t} x={x(i * 2 + 1)} y={4855} s={12.5}>{t}</Txt>)}
      <Txt x={514} y={4871} s={14}>Time (GMT)</Txt>
      <VTxt x={38} y={4621}>Speed (knots)</VTxt>
    </g>
  )
}

export default function App() {
  return (
    <>
      <style>{'html,body{margin:0;padding:0;overflow:hidden;background:#fff}'}</style>
      <svg width={1000} height={5000} viewBox="0 0 1000 5000" style={{ display: 'block' }}>
        <rect x={0} y={0} width={1000} height={5000} fill="#fff" />
        <TempPanel />
        <RhPanel />
        <MixPanel />
        <PressPanel />
        <GrassPanel />
        <RainPanel />
        <SunPanel />
        <DirPanel />
        <SpeedPanel />
      </svg>
    </>
  )
}
